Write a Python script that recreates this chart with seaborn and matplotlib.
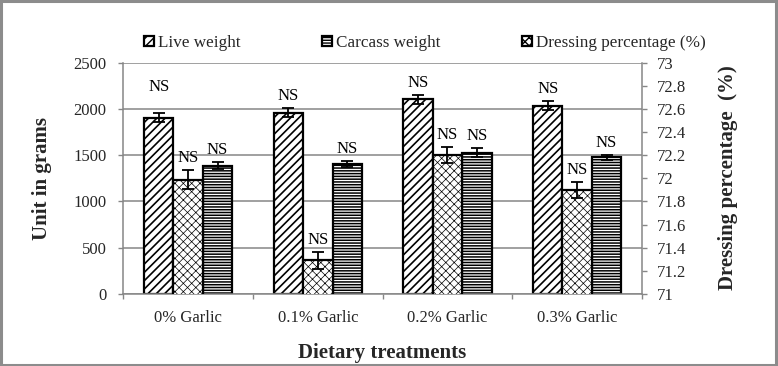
import numpy as np
import pandas as pd
import matplotlib
matplotlib.use("Agg")
import matplotlib.pyplot as plt
import seaborn as sns
from matplotlib.patches import Rectangle, Patch
from matplotlib.ticker import FixedLocator, FuncFormatter

treatments = ["0% Garlic", "0.1% Garlic", "0.2% Garlic", "0.3% Garlic"]
live_weight = [1905, 1960, 2105, 2035]
live_err = [50, 45, 48, 50]
carcass_weight = [1387, 1405, 1528, 1477]
carcass_err = [36, 35, 45, 27]
dressing_pct = [71.99, 71.29, 72.20, 71.90]
dressing_err = [0.08, 0.07, 0.07, 0.07]
left_ticks = [0, 500, 1000, 1500, 2000, 2500]
right_ticks = [71, 71.2, 71.4, 71.6, 71.8, 72, 72.2, 72.4, 72.6, 72.8, 73]

LIVE, DRESS, CARC = "Live weight", "Dressing percentage (%)", "Carcass weight"
series_order = [LIVE, DRESS, CARC]
hatches = {LIVE: "////", DRESS: "xxxx", CARC: "------"}
hatch_lw = {LIVE: 1.2, DRESS: 0.5, CARC: 1.1}

sns.set_theme(style="white")
plt.rcParams["font.family"] = ["Liberation Serif", "DejaVu Serif"]
plt.rcParams["hatch.linewidth"] = 1.0

df_left = pd.DataFrame({
    "treatment": treatments * 2,
    "series": [LIVE] * 4 + [CARC] * 4,
    "value": live_weight + carcass_weight,
})
df_right = pd.DataFrame({
    "treatment": treatments,
    "series": [DRESS] * 4,
    "value": dressing_pct,
})

W, H = 778, 366
fig = plt.figure(figsize=(W / 100, H / 100), dpi=100)
x0, x1, y0, y1 = 123.3, 642.0, 294.0, 62.7
ax = fig.add_axes([x0 / W, 1 - y0 / H, (x1 - x0) / W, (y0 - y1) / H])
pal = {s: "white" for s in series_order}
sns.barplot(data=df_left, x="treatment", y="value", hue="series",
            hue_order=series_order, order=treatments, palette=pal, dodge=True,
            width=0.68, errorbar=None, legend=False, ax=ax, zorder=2)
ax2 = ax.twinx()
sns.barplot(data=df_right, x="treatment", y="value", hue="series",
            hue_order=series_order, order=treatments, palette=pal, dodge=True,
            width=0.68, errorbar=None, legend=False, ax=ax2, zorder=2)

ax.set_ylim(0, 2500)
ax2.set_ylim(71, 73)
ax.set_xlim(-0.5, 3.5)


def apply_hatch(p, name):
    p.set_hatch(hatches[name])
    if hasattr(p, "set_hatch_linewidth"):
        p.set_hatch_linewidth(hatch_lw[name])


def style_and_err(axis, names, vals_list, errs_list):
    patches = sorted([p for p in axis.patches if p.get_height() > 0], key=lambda p: p.get_x())
    i_count = {n: 0 for n in names}
    info = []
    for k, p in enumerate(patches):
        name = names[k % len(names)]
        j = i_count[name]
        i_count[name] += 1
        p.set_facecolor("white")
        p.set_edgecolor("black")
        p.set_linewidth(1.6)
        apply_hatch(p, name)
        xc = p.get_x() + p.get_width() / 2
        idx = names.index(name)
        v = vals_list[idx][j]
        e = errs_list[idx][j]
        axis.errorbar(xc, v, yerr=e, fmt="none", ecolor="black", elinewidth=1.3,
                      capsize=4, capthick=1.3, zorder=3)
        info.append((axis, xc, v + e, name, j))
    return info

info = style_and_err(ax, [LIVE, CARC], [live_weight, carcass_weight], [live_err, carcass_err])
info += style_and_err(ax2, [DRESS], [dressing_pct], [dressing_err])

for axis, xc, top, name, j in info:
    off = 12
    if name == LIVE and j == 0:
        off = 26
    axis.annotate("NS", (xc, top), xytext=(0, off * 0.72), textcoords="offset points",
                  ha="center", va="center", fontsize=12, color="black", zorder=4)

grid_c = "#868686"
ax.yaxis.set_major_locator(FixedLocator(left_ticks))
ax.grid(axis="y", color=grid_c, linewidth=1.1)
ax.set_axisbelow(True)
for s in ["top", "right"]:
    ax.spines[s].set_visible(False)
for s in ["top", "left", "bottom"]:
    ax2.spines[s].set_visible(False)
for sp in [ax.spines["left"], ax.spines["bottom"], ax2.spines["right"]]:
    sp.set_color(grid_c)
    sp.set_linewidth(1.1)

ax.tick_params(axis="y", direction="out", length=3.6, width=1, color=grid_c,
               labelsize=12, pad=8.4, left=True)
ax2.yaxis.set_major_locator(FixedLocator(right_ticks))
ax2.yaxis.set_major_formatter(FuncFormatter(lambda v, p: f"{v:g}"))
ax2.tick_params(axis="y", direction="out", length=3.6, width=1, color=grid_c,
                labelsize=12, pad=7, right=True)
ax.set_xticks(range(len(treatments)))
ax.set_xticklabels(treatments)
ax.set_xticks([-0.5, 0.5, 1.5, 2.5, 3.5], minor=True)
ax.tick_params(axis="x", which="major", length=0, labelsize=12, pad=11.5)
ax.tick_params(axis="x", which="minor", direction="out", length=3.6, width=1,
               color=grid_c, bottom=True)

ax.set_xlabel("Dietary treatments", fontsize=15, fontweight="bold", va="center")
ax.xaxis.set_label_coords(382.6 / W, 1 - 353 / H, transform=fig.transFigure)
ax.set_ylabel("Unit in grams", fontsize=15, fontweight="bold", va="center", ha="center")
ax.yaxis.set_label_coords(41.7 / W, 1 - 178 / H, transform=fig.transFigure)
ax2.set_ylabel("Dressing percentage  (%)", fontsize=15, fontweight="bold",
               va="center", ha="center", rotation=90)
ax2.yaxis.set_label_coords(728 / W, 1 - 178 / H, transform=fig.transFigure)

handles = []
for n in [LIVE, CARC, DRESS]:
    h = Patch(facecolor="white", edgecolor="black", linewidth=1.6)
    apply_hatch(h, n)
    handles.append(h)
fig.legend(handles, [LIVE, CARC, DRESS], ncol=3, loc="center left",
           bbox_to_anchor=(144 / W, 1 - 43 / H), frameon=False, fontsize=12.3,
           handlelength=0.6, handleheight=0.6, handletextpad=0.2,
           columnspacing=4.8, borderpad=0, borderaxespad=0)

fig.patches.append(Rectangle((0.001, 0.004), 0.997, 0.994, transform=fig.transFigure,
                             fill=False, edgecolor="#8c8c8c", linewidth=2.2))
fig.savefig("out.png", dpi=100)
